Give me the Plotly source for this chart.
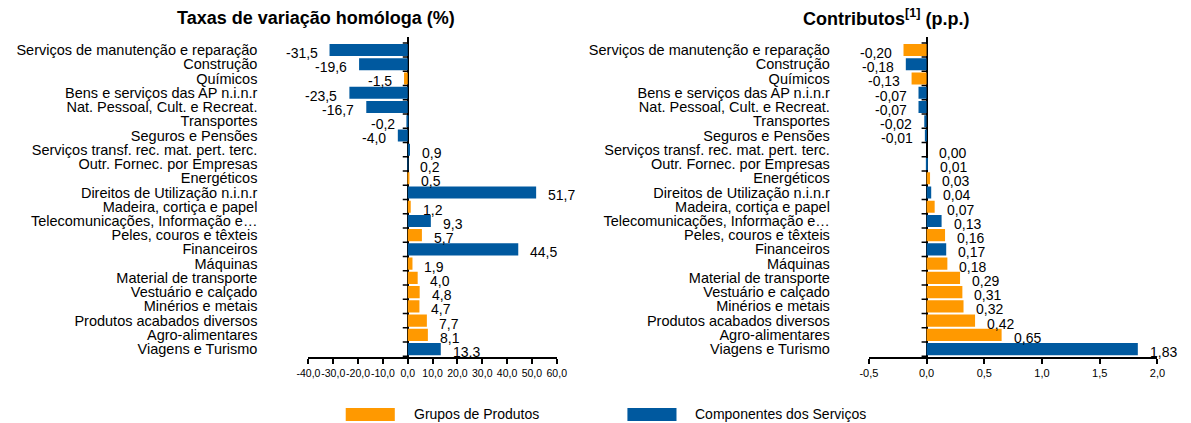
import plotly.graph_objects as go

# ---------------- data ----------------
categories = [
    "Serviços de manutenção e reparação",
    "Construção",
    "Químicos",
    "Bens e serviços das AP n.i.n.r",
    "Nat. Pessoal, Cult. e Recreat.",
    "Transportes",
    "Seguros e Pensões",
    "Serviços transf. rec. mat. pert. terc.",
    "Outr. Fornec. por Empresas",
    "Energéticos",
    "Direitos de Utilização n.i.n.r",
    "Madeira, cortiça e papel",
    "Telecomunicações, Informação e…",
    "Peles, couros e têxteis",
    "Financeiros",
    "Máquinas",
    "Material de transporte",
    "Vestuário e calçado",
    "Minérios e metais",
    "Produtos acabados diversos",
    "Agro-alimentares",
    "Viagens e Turismo",
]

# Taxas de variação homóloga (%)
left_values = [-31.5, -19.6, -1.5, -23.5, -16.7, -0.2, -4.0, 0.9, 0.2, 0.5, 51.7,
               1.2, 9.3, 5.7, 44.5, 1.9, 4.0, 4.8, 4.7, 7.7, 8.1, 13.3]
left_groups = ["S", "S", "P", "S", "S", "S", "S", "S", "S", "P", "S",
               "P", "S", "P", "S", "P", "P", "P", "P", "P", "P", "S"]

# Contributos (p.p.)
right_values = [-0.20, -0.18, -0.13, -0.07, -0.07, -0.02, -0.01, 0.00, 0.01, 0.03, 0.04,
                0.07, 0.13, 0.16, 0.17, 0.18, 0.29, 0.31, 0.32, 0.42, 0.65, 1.83]
right_groups = ["P", "S", "P", "S", "S", "S", "S", "S", "S", "P", "S",
                "P", "S", "P", "S", "P", "P", "P", "P", "P", "P", "S"]

left_ticks = [-40, -30, -20, -10, 0, 10, 20, 30, 40, 50, 60]
right_ticks = [-0.5, 0.0, 0.5, 1.0, 1.5, 2.0]

series_names = {"P": "Grupos de Produtos", "S": "Componentes dos Serviços"}
series_colors = {"P": "#FF9900", "S": "#00599F"}

# ---------------- figure ----------------
W, H = 1191, 423
FONT = "Liberation Sans, Arial, sans-serif"


def fmt(v, d):
    return f"{v:.{d}f}".replace(".", ",")


fig = go.Figure()

for key in ["P", "S"]:
    fig.add_trace(go.Bar(
        y=categories,
        x=[v if g == key else None for v, g in zip(left_values, left_groups)],
        orientation="h", marker=dict(color=series_colors[key], line=dict(width=0)),
        name=series_names[key], showlegend=False, xaxis="x", yaxis="y",
    ))
    fig.add_trace(go.Bar(
        y=categories,
        x=[v if g == key else None for v, g in zip(right_values, right_groups)],
        orientation="h", marker=dict(color=series_colors[key], line=dict(width=0)),
        name=series_names[key], showlegend=False, xaxis="x2", yaxis="y2",
    ))

annotations = []
# value labels
for vals, dec, xr, yr in [(left_values, 1, "x", "y"), (right_values, 2, "x2", "y2")]:
    for c, v in zip(categories, vals):
        neg = v < 0
        annotations.append(dict(
            x=v, y=c, xref=xr, yref=yr, text=fmt(v, dec), showarrow=False,
            xanchor="right" if neg else "left", xshift=-10 if neg else 10, yshift=-3,
            font=dict(family=FONT, size=14, color="#000000"),
        ))

# titles
annotations.append(dict(x=310 / W, y=1 - 18 / H, xref="paper", yref="paper",
                        text="<b>Taxas de variação homóloga (%)</b>", showarrow=False,
                        xanchor="center", yanchor="middle",
                        font=dict(family=FONT, size=18, color="#000000")))
annotations.append(dict(x=890 / W, y=1 - 18 / H, xref="paper", yref="paper",
                        text="<b>Contributos<sup>[1]</sup> (p.p.)</b>", showarrow=False,
                        xanchor="center", yanchor="middle",
                        font=dict(family=FONT, size=18, color="#000000")))

# legend (custom, Excel style wide swatches)
shapes = []
legend_items = [("P", 340, 408), ("S", 627, 694)]
for key, sx, tx in legend_items:
    shapes.append(dict(type="rect", xref="paper", yref="paper",
                       x0=sx / W, x1=(sx + 50) / W, y0=1 - 421 / H, y1=1 - 408 / H,
                       fillcolor=series_colors[key], line=dict(width=0)))
    annotations.append(dict(x=tx / W, y=1 - 414 / H, xref="paper", yref="paper",
                            text=series_names[key], showarrow=False,
                            xanchor="left", yanchor="middle",
                            font=dict(family=FONT, size=14, color="#000000")))

# small category tick marks on the zero line
for xr, yr in [("x", "y"), ("x2", "y2")]:
    for b in range(len(categories) + 1):
        shapes.append(dict(type="line", xref=xr, yref=yr, xsizemode="pixel", xanchor=0,
                           x0=-5, x1=0, y0=b - 0.5, y1=b - 0.5,
                           line=dict(color="#000000", width=1.5)))

y_top = 1 - 37 / H
y_bot = 1 - 357 / H

common_x = dict(showgrid=False, zeroline=True, zerolinecolor="#000000", zerolinewidth=2,
                showline=True, linecolor="#000000", linewidth=2, ticks="outside",
                ticklen=5, tickcolor="#000000", tickwidth=1.5, tickangle=0,
                fixedrange=True)
common_y = dict(showgrid=False, zeroline=False, showline=False, ticks="",
                autorange="reversed",
                tickmode="array", tickvals=categories, ticktext=categories,
                tickfont=dict(family=FONT, size=14.5, color="#000000"),
                domain=[y_bot, y_top], fixedrange=True)

fig.update_layout(
    width=W, height=H,
    margin=dict(l=0, r=0, t=0, b=0),
    paper_bgcolor="#FFFFFF", plot_bgcolor="#FFFFFF",
    barmode="relative", bargap=0.15,
    showlegend=False,
    xaxis=dict(domain=[302 / W, 555 / W], range=[left_ticks[0], left_ticks[-1]],
               tickvals=left_ticks, ticktext=[fmt(t, 1) for t in left_ticks],
               tickfont=dict(family=FONT, size=10.5, color="#000000"),
               anchor="y", **common_x),
    yaxis=dict(anchor="x", ticklabelstandoff=50, **common_y),
    xaxis2=dict(domain=[873 / W, 1167 / W], range=[right_ticks[0], right_ticks[-1]],
                tickvals=right_ticks, ticktext=[fmt(t, 1) for t in right_ticks],
                tickfont=dict(family=FONT, size=11, color="#000000"),
                anchor="y2", **common_x),
    yaxis2=dict(anchor="x2", ticklabelstandoff=38, **common_y),
    annotations=annotations,
    shapes=shapes,
    font=dict(family=FONT, color="#000000"),
)

fig.write_html(
    "out.html",
    config={"displayModeBar": False},
    post_script="document.body.style.margin='0px';document.body.style.overflow='hidden';",
)
